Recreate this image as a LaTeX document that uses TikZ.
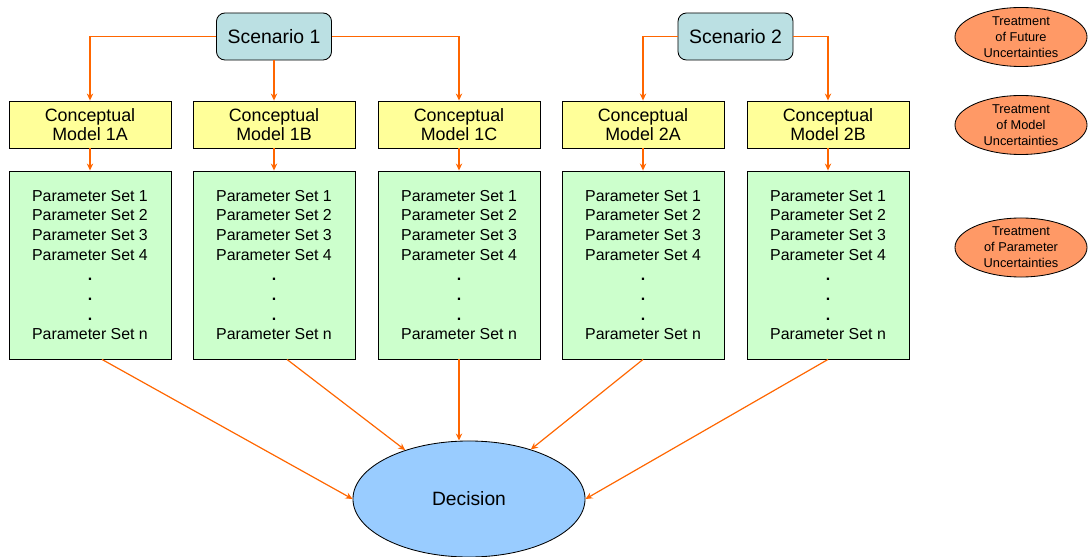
\documentclass[tikz,border=0pt]{standalone}
\usepackage{fontspec}
\setmainfont{Liberation Sans}
\usetikzlibrary{arrows.meta,shapes.geometric}

\definecolor{scenfill}{HTML}{BBE0E3}
\definecolor{modelfill}{HTML}{FFFF99}
\definecolor{parfill}{HTML}{CCFFCC}
\definecolor{decfill}{HTML}{99CCFF}
\definecolor{treatfill}{HTML}{FF9966}
\definecolor{linkorange}{HTML}{FF6600}

\newcommand{\paramlist}{Parameter Set 1\\Parameter Set 2\\Parameter Set 3\\Parameter Set 4\\
  \textbf{.}\\\textbf{.}\\\textbf{.}\\Parameter Set n}

\tikzset{
  scen/.style={draw,line width=0.6pt,rounded corners=6pt,fill=scenfill,
    minimum width=2.875cm,minimum height=1.175cm,font=\fontsize{13.8}{16}\selectfont},
  model/.style={draw,line width=0.6pt,fill=modelfill,minimum width=4.05cm,
    minimum height=1.175cm,align=center,font=\fontsize{12.7}{13.5}\selectfont},
  params/.style={draw,line width=0.6pt,fill=parfill,minimum width=4.05cm,
    minimum height=4.7cm,align=center,font=\fontsize{11.3}{14.1}\selectfont},
  treat/.style={ellipse,draw,line width=0.6pt,fill=treatfill,minimum width=3.3cm,
    minimum height=1.475cm,inner sep=0pt,align=center,font=\fontsize{9.1}{11.3}\selectfont},
  link/.style={draw=linkorange,line width=0.85pt,-{Stealth[length=5pt,width=4.5pt]}},
}

\begin{document}
\begin{tikzpicture}[x=0.025cm,y=-0.025cm]
  \useasboundingbox (0,0) rectangle (1089,557);

  \node[scen] (s1) at (274,36.5) {Scenario 1};
  \node[scen] (s2) at (735.5,36.5) {Scenario 2};

  \foreach \x/\n/\lab in {90/1a/1A,274/1b/1B,459/1c/1C,643/2a/2A,828/2b/2B} {
    \node[model] (m\n) at (\x,124.5) {Conceptual\\Model \lab};
    \node[params] (p\n) at (\x,265) {\paramlist};
    \draw[link] (m\n.south) -- (p\n.north);
  }

  \draw[link] (s1.west) -| (m1a.north);
  \draw[link] (s1.south) -- (m1b.north);
  \draw[link] (s1.east) -| (m1c.north);
  \draw[link] (s2.west) -| (m2a.north);
  \draw[link] (s2.east) -| (m2b.north);

  \node[ellipse,draw,line width=0.6pt,fill=decfill,minimum width=5.8cm,minimum height=2.9cm,
    font=\fontsize{13.7}{16}\selectfont] (dec) at (469,499) {Decision};

  \draw[link] ([xshift=0.3cm]p1a.south) -- (dec.west);
  \draw[link] ([xshift=0.325cm]p1b.south) -- (dec);
  \draw[link] (p1c.south) -- (p1c.south |- dec.north);
  \draw[link] (p2a.south) -- (dec);
  \draw[link] (p2b.south) -- (dec.east);

  \node[treat] (tf) at (1021,37) {Treatment\\of Future\\Uncertainties};
  \node[treat] (tm) at (1021,125) {Treatment\\of Model\\Uncertainties};
  \node[treat] (tp) at (1021,247.5) {Treatment\\of Parameter\\Uncertainties};
\end{tikzpicture}
\end{document}
